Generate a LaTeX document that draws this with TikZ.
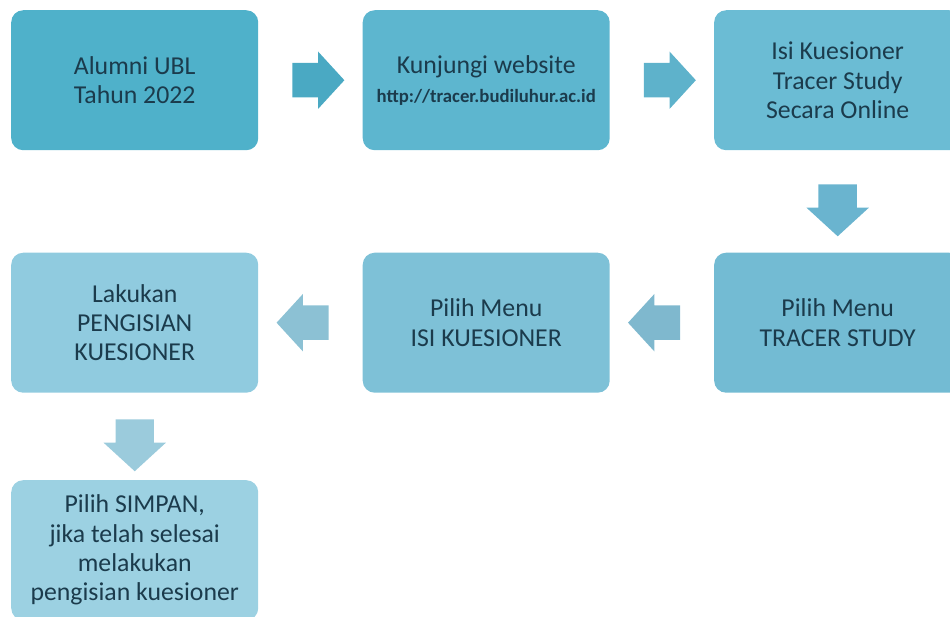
\documentclass[tikz,border=0pt]{standalone}
\usepackage{fontspec}
\setmainfont{Carlito}
\usetikzlibrary{positioning}
\usetikzlibrary{calc}
\usetikzlibrary{shapes.arrows}

\definecolor{boxA}{HTML}{4FB1CA}
\definecolor{boxB}{HTML}{5DB6CF}
\definecolor{boxC}{HTML}{6BBCD4}
\definecolor{boxD}{HTML}{73BBD3}
\definecolor{boxE}{HTML}{7EC1D7}
\definecolor{boxF}{HTML}{90CBDF}
\definecolor{boxG}{HTML}{9CD1E2}
\definecolor{arrA}{HTML}{4AA9C3}
\definecolor{arrB}{HTML}{5EB2CB}
\definecolor{arrC}{HTML}{6AB4CF}
\definecolor{arrD}{HTML}{7FB8CE}
\definecolor{arrE}{HTML}{8CC1D4}
\definecolor{arrF}{HTML}{9BCBDC}
\definecolor{txtBlue}{HTML}{1B3B4C}

\begin{document}
\begin{tikzpicture}

\tikzstyle{stepBox}=[rectangle,rounded corners=0.36cm,align=center,minimum width=7.41cm,minimum height=4.2cm,text=txtBlue,font=\fontsize{22pt}{25pt}\selectfont];
\tikzstyle{flowArrow}=[single arrow,minimum height=1.56cm,inner xsep=0pt,inner ysep=0.51cm,single arrow head extend=0.345cm,single arrow tip angle=95];
\tikzstyle{flowArrowDown}=[flowArrow,shape border rotate=270,inner xsep=0.57cm,inner ysep=0pt,single arrow head extend=0.36cm];

\path [use as bounding box,clip] (0,0) rectangle (28.5,-18.51);

% first row, left to right
\node [stepBox,fill=boxA,anchor=north west] (alumni) at (0.33,-0.3) {Alumni UBL\\Tahun 2022};
\node [stepBox,fill=boxB,right=3.12cm of alumni] (website) {Kunjungi website\\{\fontsize{16pt}{20pt}\selectfont\bfseries http://tracer.budiluhur.ac.id}};
\node [stepBox,fill=boxC,right=3.12cm of website] (isi) {Isi Kuesioner\\Tracer Study\\Secara Online};

% second row, right to left
\node [stepBox,fill=boxD,below=3.06cm of isi] (menuTracer) {Pilih Menu\\TRACER STUDY};
\node [stepBox,fill=boxE,left=3.12cm of menuTracer] (menuIsi) {Pilih Menu\\ISI KUESIONER};
\node [stepBox,fill=boxF,left=3.12cm of menuIsi] (pengisian) {Lakukan\\PENGISIAN\\KUESIONER};
\node [stepBox,fill=boxG,below=2.61cm of pengisian] (simpan) {Pilih SIMPAN,\\jika telah selesai\\melakukan\\pengisian kuesioner};

%\node [flowArrow] (test) at (0,0) {};

\node [flowArrow,fill=arrA] (toWebsite) at ($(alumni.east)!0.5!(website.west)$) {};
\node [flowArrow,fill=arrB] (toIsi) at ($(website.east)!0.5!(isi.west)$) {};
\node [flowArrowDown,fill=arrC] (toTracer) at ($(isi.south)!0.5!(menuTracer.north)$) {};
\node [flowArrow,fill=arrD,shape border rotate=180] (toMenuIsi) at ($(menuTracer.west)!0.5!(menuIsi.east)$) {};
\node [flowArrow,fill=arrE,shape border rotate=180] (toPengisian) at ($(menuIsi.west)!0.5!(pengisian.east)$) {};
\node [flowArrowDown,fill=arrF] (toSimpan) at ($(pengisian.south)!0.5!(simpan.north)$) {};

\end{tikzpicture}
\end{document}
